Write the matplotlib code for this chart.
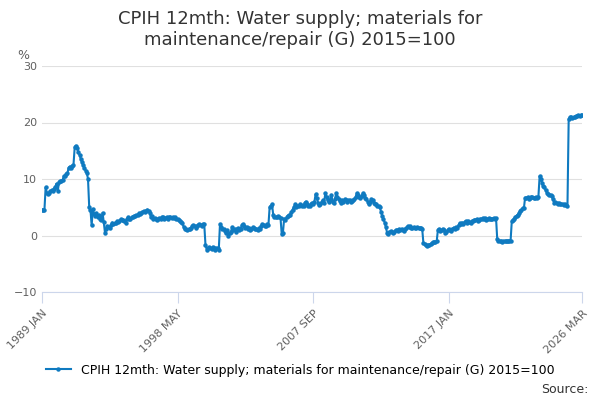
import numpy as np
import pandas as pd
import matplotlib
matplotlib.use('Agg')
import matplotlib.pyplot as plt

start = '1989-01'
yearly = [
    [4.6, 4.5, 4.5, 8.5, 7.6, 7.3, 7.6, 7.8, 8.0, 7.9, 8.3, 8.6],
    [9.2, 7.8, 9.4, 9.6, 9.6, 9.8, 10.5, 10.6, 10.8, 11.0, 12.0, 12.2],
    [12.0, 12.3, 12.5, 15.6, 15.9, 15.5, 14.7, 14.3, 13.6, 13.0, 12.4, 12.0],
    [11.5, 11.1, 10.0, 5.0, 4.6, 1.8, 4.7, 3.8, 3.5, 4.0, 3.2, 3.6],
    [3.0, 2.8, 4.0, 2.4, 0.5, 1.2, 1.7, 1.5, 1.4, 1.8, 2.3, 2.0],
    [2.2, 2.3, 2.5, 2.4, 2.6, 2.9, 2.7, 2.8, 2.6, 2.2, 2.9, 3.2],
    [2.9, 3.0, 3.2, 3.3, 3.5, 3.4, 3.6, 3.7, 3.9, 3.8, 4.0, 4.2],
    [4.3, 4.1, 4.4, 4.6, 4.3, 4.0, 3.2, 3.4, 3.0, 3.1, 3.0, 2.8],
    [2.9, 3.1, 3.0, 3.3, 3.2, 2.9, 3.1, 3.2, 3.0, 3.2, 3.3, 3.1],
    [3.2, 3.1, 3.2, 3.0, 2.9, 2.7, 2.6, 2.4, 2.2, 1.5, 1.1, 1.1],
    [1.0, 1.1, 1.1, 1.3, 1.6, 1.8, 1.7, 1.4, 1.6, 1.9, 2.0, 1.8],
    [1.7, 2.0, 2.0, -1.6, -2.5, -2.3, -2.1, -2.2, -2.4, -2.0, -2.2, -2.6],
    [-2.3, -2.2, -2.5, 2.0, 1.5, 1.1, 1.2, 0.8, 0.5, 0.9, -0.1, 0.4],
    [0.6, 1.5, 1.0, 1.2, 0.6, 1.1, 1.3, 0.9, 1.1, 1.8, 2.0, 1.6],
    [1.4, 1.5, 1.2, 1.3, 1.0, 1.1, 1.5, 1.4, 1.2, 1.1, 1.0, 1.3],
    [1.2, 1.6, 2.0, 1.8, 1.7, 1.6, 2.0, 1.8, 5.0, 5.2, 5.5, 3.6],
    [3.2, 3.3, 3.2, 3.4, 3.2, 3.1, 0.2, 0.5, 3.0, 2.8, 3.2, 3.5],
    [3.6, 3.7, 4.2, 4.6, 5.0, 5.5, 5.1, 5.3, 5.2, 5.6, 5.4, 5.2],
    [5.3, 5.8, 6.0, 5.5, 5.2, 5.3, 5.6, 5.8, 5.5, 6.0, 7.3, 6.6],
    [5.8, 5.4, 5.5, 6.0, 6.2, 5.8, 7.5, 6.8, 6.2, 6.0, 6.3, 7.2],
    [6.0, 5.8, 6.5, 7.5, 6.9, 6.5, 6.1, 5.8, 6.2, 6.0, 6.4, 6.2],
    [6.0, 6.2, 6.3, 6.0, 6.1, 6.3, 6.5, 6.8, 7.5, 7.2, 6.8, 6.7],
    [7.0, 7.5, 7.2, 6.7, 6.4, 6.0, 5.5, 6.0, 6.4, 6.2, 5.8, 5.6],
    [5.5, 5.3, 5.2, 5.0, 4.2, 3.5, 3.0, 2.3, 1.5, 0.5, 0.2, 0.6],
    [0.8, 0.6, 0.5, 0.7, 1.0, 0.9, 0.8, 1.1, 0.9, 1.2, 1.0, 0.8],
    [1.1, 1.4, 1.7, 1.5, 1.6, 1.4, 1.3, 1.5, 1.4, 1.3, 1.5, 1.4],
    [1.3, 1.4, 1.2, -1.3, -1.5, -1.6, -1.8, -1.7, -1.6, -1.5, -1.4, -1.2],
    [-1.1, -1.2, -1.0, 1.0, 1.2, 0.8, 0.9, 1.2, 1.0, 0.4, 0.6, 0.9],
    [1.2, 1.0, 0.8, 1.1, 1.4, 1.2, 1.5, 1.4, 1.8, 2.2, 2.0, 2.3],
    [2.1, 2.4, 2.5, 2.3, 2.6, 2.4, 2.2, 2.5, 2.6, 2.8, 2.7, 2.9],
    [2.6, 2.8, 3.0, 2.9, 3.1, 3.0, 3.1, 2.8, 3.0, 3.1, 3.0, 3.0],
    [3.0, 3.1, 3.0, 3.1, -0.7, -0.9, -1.0, -1.0, -1.1, -1.0, -1.0, -1.0],
    [-1.0, -1.0, -0.9, -1.0, 2.5, 2.7, 3.0, 3.3, 3.5, 3.7, 4.0, 4.4],
    [4.6, 4.9, 4.8, 6.7, 6.6, 6.8, 6.5, 6.7, 6.9, 6.8, 6.6, 6.7],
    [6.8, 6.6, 6.9, 10.5, 10.0, 9.3, 8.8, 8.5, 8.0, 7.6, 7.4, 7.2],
    [7.2, 7.0, 6.4, 5.8, 5.9, 5.7, 5.6, 5.8, 5.6, 5.5, 5.6, 5.4],
    [5.5, 5.4, 5.3, 20.6, 20.9, 21.0, 20.8, 20.9, 21.0, 21.1, 21.2, 21.3],
    [21.2, 21.3, 21.4],
]
values = [v for yr in yearly for v in yr]
tick_labels = ['1989 JAN', '1998 MAY', '2007 SEP', '2017 JAN', '2026 MAR']
title = 'CPIH 12mth: Water supply; materials for\nmaintenance/repair (G) 2015=100'
series_name = 'CPIH 12mth: Water supply; materials for maintenance/repair (G) 2015=100'

dates = pd.period_range(start, periods=len(values), freq='M')
labels = [d.strftime('%Y %b').upper() for d in dates]
x = np.arange(len(values))
color = '#0f7ac0'

fig = plt.figure(figsize=(6, 4), dpi=100)
ax = fig.add_axes([0.07, 0.27, 0.9, 0.565])
ax.plot(x, values, color=color, lw=1.5, marker='o', ms=2.2, label=series_name)
ax.set_ylim(-10, 30)
ax.set_yticks([-10, 0, 10, 20, 30])
ax.set_xlim(0, len(values) - 1)
ticks = [labels.index(t) for t in tick_labels]
ax.set_xticks(ticks)
ax.set_xticklabels(tick_labels, rotation=45, ha='right', rotation_mode='anchor')
ax.grid(axis='y', color='#e0e0e0', lw=0.8)
ax.set_axisbelow(True)
for s in ['left', 'right', 'top']:
    ax.spines[s].set_visible(False)
ax.spines['bottom'].set_color('#ccd6eb')
ax.tick_params(axis='y', length=0, labelsize=8, colors='#606060')
ax.tick_params(axis='x', color='#ccd6eb', length=8, labelsize=8, labelcolor='#606060')
ax.text(-0.045, 1.03, '%', transform=ax.transAxes, fontsize=9, color='#606060')
fig.suptitle(title, y=0.975, fontsize=13, color='#333333')
fig.legend(loc='lower center', bbox_to_anchor=(0.5, 0.03), frameon=False,
           fontsize=9, handlelength=2)
fig.text(0.98, 0.01, 'Source:', ha='right', va='bottom', fontsize=9, color='#333333')
fig.savefig('out.png', dpi=100)
